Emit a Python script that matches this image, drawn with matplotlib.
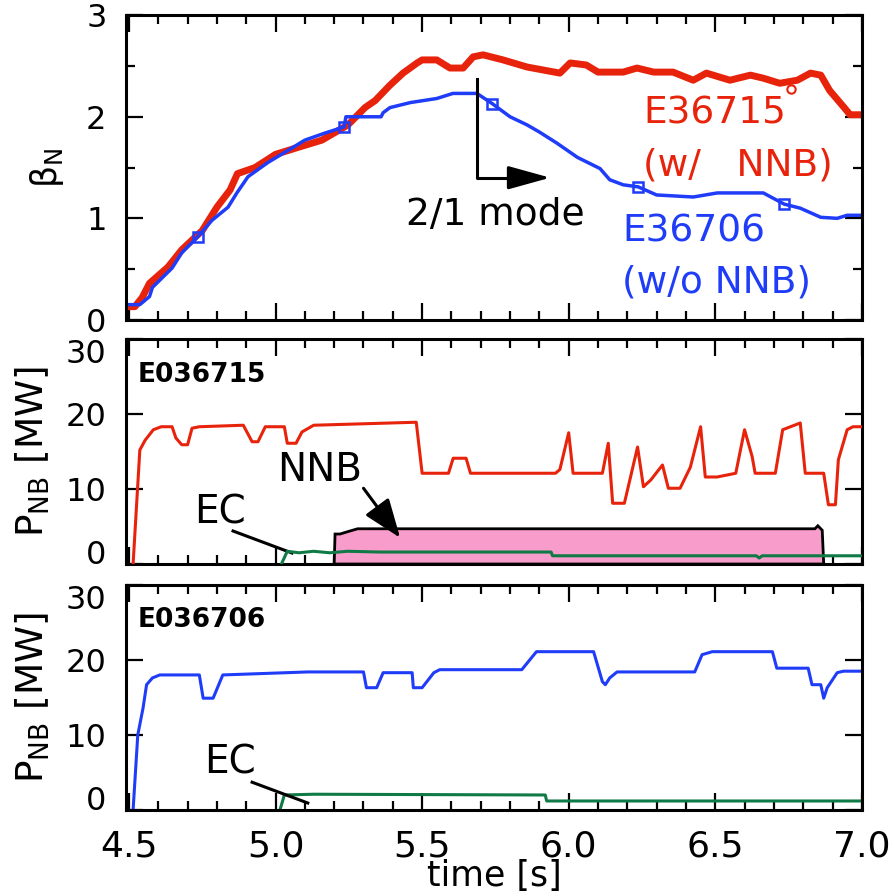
import matplotlib
matplotlib.use('Agg')
import matplotlib.pyplot as plt
import matplotlib.ticker as ticker

# beta_N, top panel
t_r = [4.48, 4.52, 4.545, 4.57, 4.633, 4.68, 4.75, 4.80, 4.845, 4.87, 4.93, 5.0, 5.067,
       5.158, 5.247, 5.305, 5.34, 5.39, 5.435, 5.483, 5.50, 5.55, 5.595, 5.64, 5.674,
       5.708, 5.776, 5.858, 5.97, 6.005, 6.06, 6.10, 6.186, 6.233, 6.29, 6.356, 6.425,
       6.47, 6.55, 6.62, 6.664, 6.72, 6.78, 6.825, 6.86, 6.89, 6.94, 6.96, 7.0]
beta_r = [0.13, 0.13, 0.22, 0.36, 0.52, 0.69, 0.88, 1.11, 1.28, 1.44, 1.50, 1.63, 1.69,
          1.77, 1.92, 2.09, 2.16, 2.31, 2.43, 2.53, 2.56, 2.56, 2.48, 2.48, 2.59,
          2.61, 2.56, 2.49, 2.43, 2.53, 2.51, 2.44, 2.44, 2.48, 2.44, 2.44, 2.36,
          2.43, 2.36, 2.41, 2.38, 2.33, 2.36, 2.43, 2.41, 2.26, 2.09, 2.02, 2.02]
t_r_mark = [6.76]
beta_r_mark = [2.27]

t_b = [4.48, 4.537, 4.57, 4.58, 4.647, 4.68, 4.735, 4.783, 4.838, 4.868, 4.906, 4.974,
       5.043, 5.10, 5.169, 5.234, 5.24, 5.36, 5.367, 5.39, 5.46, 5.55, 5.605, 5.687,
       5.739, 5.80, 5.858, 5.90, 5.96, 6.03, 6.107, 6.14, 6.186, 6.237, 6.30, 6.425,
       6.507, 6.664, 6.735, 6.79, 6.86, 6.916, 6.95, 7.0]
beta_b = [0.15, 0.15, 0.23, 0.32, 0.51, 0.66, 0.82, 0.98, 1.11, 1.25, 1.41, 1.55,
          1.67, 1.77, 1.84, 1.90, 2.0, 2.0, 2.04, 2.09, 2.14, 2.18, 2.23, 2.23,
          2.13, 2.0, 1.92, 1.85, 1.74, 1.60, 1.49, 1.38, 1.33, 1.31, 1.23, 1.21,
          1.25, 1.25, 1.14, 1.10, 1.01, 1.0, 1.03, 1.03]
t_b_mark = [4.735, 5.234, 5.739, 6.237, 6.735]
beta_b_mark = [0.82, 1.90, 2.13, 1.31, 1.14]

# P_NB for E036715, middle panel
t_nb1 = [4.514, 4.537, 4.555, 4.583, 4.61, 4.647, 4.66, 4.68, 4.70, 4.715, 4.74, 4.89,
         4.92, 4.94, 4.965, 5.03, 5.04, 5.07, 5.09, 5.13, 5.48, 5.50, 5.59, 5.606,
         5.65, 5.665, 5.955, 5.97, 6.0, 6.015, 6.115, 6.135, 6.15, 6.19, 6.235, 6.255,
         6.28, 6.32, 6.34, 6.38, 6.415, 6.45, 6.466, 6.506, 6.57, 6.60, 6.626, 6.636,
         6.705, 6.73, 6.79, 6.807, 6.87, 6.886, 6.91, 6.92, 6.95, 6.97, 7.0]
p_nb1 = [0, 15.2, 16.5, 17.9, 18.3, 18.3, 16.8, 15.9, 15.9, 18.1, 18.3, 18.5,
         16.3, 16.3, 18.3, 18.3, 16.1, 16.1, 17.6, 18.5, 18.9, 12.1, 12.1, 14.1,
         14.1, 12.1, 12.1, 12.6, 17.5, 12.1, 12.1, 16.1, 8.1, 8.1, 15.6, 10.3,
         11.2, 13.2, 10.1, 10.1, 12.9, 18.3, 11.6, 11.6, 12.1, 17.9, 14.3, 12.1,
         12.1, 17.9, 18.8, 12.1, 12.1, 7.9, 7.9, 13.9, 17.9, 18.3, 18.3]
t_ec1 = [5.02, 5.04, 5.08, 5.13, 5.185, 5.245, 5.357, 5.94, 5.945, 6.64, 6.65, 6.66, 7.0]
p_ec1 = [0, 1.7, 1.5, 1.7, 1.5, 1.7, 1.6, 1.6, 1.1, 1.1, 0.8, 1.1, 1.1]
t_nnb = [5.20, 5.203, 5.22, 5.245, 5.28, 6.84, 6.85, 6.865, 6.87]
p_nnb = [0, 4.0, 4.0, 4.3, 4.7, 4.7, 5.1, 4.5, 0]

# P_NB for E036706, bottom panel
t_nb2 = [4.514, 4.53, 4.548, 4.56, 4.58, 4.605, 4.74, 4.753, 4.787, 4.82, 5.11, 5.30,
         5.31, 5.345, 5.367, 5.466, 5.47, 5.50, 5.54, 5.56, 5.84, 5.89, 6.085, 6.115,
         6.125, 6.14, 6.165, 6.43, 6.455, 6.49, 6.695, 6.71, 6.817, 6.83, 6.86, 6.87,
         6.882, 6.916, 6.937, 7.0]
p_nb2 = [0, 10, 13.6, 16.7, 17.6, 18.0, 18.0, 14.9, 14.9, 18.0, 18.4, 18.4,
         16.3, 16.3, 18.3, 18.3, 16.3, 16.3, 18.3, 18.7, 18.7, 21.1, 21.1, 17.1,
         16.7, 17.6, 18.4, 18.4, 20.7, 21.1, 21.1, 18.9, 18.9, 16.7, 16.7, 14.9,
         16.3, 18.3, 18.5, 18.5]
t_ec2 = [5.015, 5.03, 5.13, 5.92, 5.925, 7.0]
p_ec2 = [0, 2.0, 2.1, 2.0, 1.2, 1.2]

x_ticks = [4.5, 5.0, 5.5, 6.0, 6.5, 7.0]
x_ticklabels = ['4.5', '5.0', '5.5', '6.0', '6.5', '7.0']

red = '#e8230c'
blue = '#1f3cf8'
green = '#0f7a45'
pink = '#f79ccb'

fig = plt.figure(figsize=(8.94, 8.96), dpi=100)
ax1 = fig.add_axes([0.141, 0.643, 0.823, 0.340])
ax2 = fig.add_axes([0.141, 0.3705, 0.823, 0.2512])
ax3 = fig.add_axes([0.141, 0.096, 0.823, 0.2512])

for ax in (ax1, ax2, ax3):
    ax.set_xlim(4.49, 7.0)
    ax.xaxis.set_major_locator(ticker.FixedLocator(x_ticks))
    ax.xaxis.set_minor_locator(ticker.MultipleLocator(0.1))
    ax.tick_params(which='both', direction='in', top=True, right=True, width=1.6)
    ax.tick_params(which='major', length=12, pad=14)
    ax.tick_params(which='minor', length=6.5)
    ax.tick_params(axis='y', labelsize=23)
    for s in ax.spines.values():
        s.set_linewidth(2.2)

# top panel
ax1.plot(t_r, beta_r, color=red, lw=5, solid_joinstyle='round')
ax1.plot(t_r_mark, beta_r_mark, 'o', ms=6, mfc='none', mec=red, mew=1.5)
ax1.plot(t_b, beta_b, color=blue, lw=2.5)
ax1.plot(t_b_mark, beta_b_mark, 's', ms=7, mfc='none', mec=blue, mew=1.8)
ax1.set_ylim(0, 3)
ax1.yaxis.set_major_locator(ticker.MultipleLocator(1))
ax1.yaxis.set_minor_locator(ticker.MultipleLocator(0.5))
ax1.tick_params(axis='x', labelbottom=False)
ax1.set_ylabel('β$_{\\rm N}$', fontsize=25)
ax1.yaxis.label.set_va('center')
ax1.yaxis.set_label_coords(-0.108, 0.5)

ax1.plot([5.688, 5.688, 5.84], [2.37, 1.40, 1.40], color='k', lw=2.2)
ax1.annotate('', xy=(5.937, 1.40), xytext=(5.80, 1.40),
             arrowprops=dict(arrowstyle='-|>,head_length=1.3,head_width=0.36',
                             mutation_scale=20, color='k', lw=2.2,
                             shrinkA=0, shrinkB=0))
ax1.text(5.75, 1.03, '2/1 mode', fontsize=27, ha='center', va='center')
ax1.text(6.254, 2.03, 'E36715', fontsize=27, color=red, ha='left', va='center')
ax1.text(6.254, 1.52, '(w/   NNB)', fontsize=27, color=red, ha='left', va='center')
ax1.text(6.183, 0.87, 'E36706', fontsize=27, color=blue, ha='left', va='center')
ax1.text(6.183, 0.37, '(w/o NNB)', fontsize=27, color=blue, ha='left', va='center')

# middle panel
ax2.fill(t_nnb, p_nnb, facecolor=pink, edgecolor='k', lw=2, zorder=2.5)
ax2.plot(t_ec1, p_ec1, color=green, lw=2.2, zorder=2.6)
ax2.plot(t_nb1, p_nb1, color=red, lw=2.2, zorder=3)
ax2.text(4.53, 25.2, 'E036715', fontsize=19, fontweight='bold', ha='left', va='center')
ax2.text(5.152, 12.5, 'NNB', fontsize=28, ha='center', va='center')
ax2.annotate('', xy=(5.425, 3.5), xytext=(5.30, 10.1),
             arrowprops=dict(arrowstyle='-|>,head_length=1.2,head_width=0.45',
                             mutation_scale=20, color='k', lw=2.2,
                             shrinkA=0, shrinkB=0))
ax2.text(4.81, 6.9, 'EC', fontsize=28, ha='center', va='center')
ax2.plot([4.855, 5.056], [4.4, 1.47], color='k', lw=2.2)

# bottom panel
ax3.plot(t_ec2, p_ec2, color=green, lw=2.2)
ax3.plot(t_nb2, p_nb2, color=blue, lw=2.2)
ax3.text(4.53, 25.3, 'E036706', fontsize=19, fontweight='bold', ha='left', va='center')
ax3.text(4.845, 6.3, 'EC', fontsize=28, ha='center', va='center')
ax3.plot([4.92, 5.11], [3.7, 0.93], color='k', lw=2.2)

for ax in (ax2, ax3):
    ax.set_ylim(0, 30)
    ax.yaxis.set_major_locator(ticker.FixedLocator([0, 10, 20, 30]))
    ax.set_yticklabels(['0', '10', '20', '30'])
    ax.set_ylabel('P$_{\\rm NB}$ [MW]', fontsize=27)
    ax.yaxis.label.set_va('center')
    ax.yaxis.set_label_coords(-0.126, 0.5)
    labs = ax.get_yticklabels()
    labs[0].set_va('baseline')
    labs[-1].set_va('top')

ax2.tick_params(axis='x', labelbottom=False)
ax3.set_xticks(x_ticks)
ax3.set_xticklabels(x_ticklabels)
ax3.tick_params(axis='x', labelsize=26, pad=14)
ax3.set_xlabel('time [s]', fontsize=25)
ax3.xaxis.label.set_va('center')
ax3.xaxis.set_label_coords(0.5, -0.295)

fig.savefig('out.png', dpi=100)
